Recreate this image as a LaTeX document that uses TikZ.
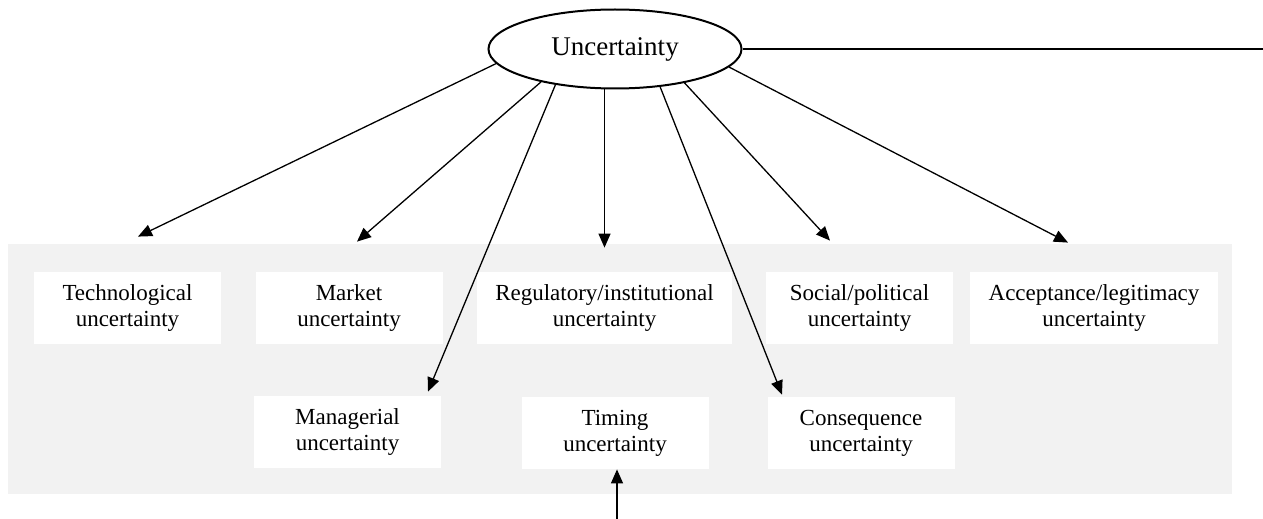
\documentclass[tikz,border=0pt]{standalone}
\usepackage{fontspec}
\setmainfont{Liberation Serif}
\usetikzlibrary{arrows.meta,shapes.geometric}
\definecolor{panelgray}{HTML}{F2F2F2}

\begin{document}
\begin{tikzpicture}[
	x=0.5pt, y=-0.5pt,
	box/.style = {
		fill=white,
		align=center,
		inner sep=0pt,
		minimum height = 36pt,
		minimum width = 93.5pt,
		font=\fontsize{11.5}{13}\selectfont,
	},
	arr/.style={-{Triangle[length=7pt,width=6pt]}, line width=0.65pt},
]
\useasboundingbox (0,0) rectangle (1263,519);

% grey panel
\fill[panelgray] (8,244) rectangle (1232,494);

% Uncertainty ellipse
\node [
	ellipse,draw,
	line width=1pt,
	inner sep=0pt,
	minimum width=126.5pt,
	minimum height=39.5pt,
	font=\fontsize{13.5}{16}\selectfont,
] (unc) at (615,49) {Uncertainty};

% first row
\node [box] (tech) at (127.5,308) {Technological\\uncertainty};
\node [box] (mkt) at (349,308) {Market\\uncertainty};
\node [box, minimum width=127.5pt] (reg) at (604.5,308) {Regulatory/institutional\\uncertainty};
\node [box] (soc) at (859.5,308) {Social/political\\uncertainty};
\node [box, minimum width=124pt] (acc) at (1094,308) {Acceptance/legitimacy\\uncertainty};

% second row
\node [box] (mgr) at (347.5,432) {Managerial\\uncertainty};
\node [box] (tim) at (615,433) {Timing\\uncertainty};
\node [box] (csq) at (861,433) {Consequence\\uncertainty};

% free ends
\coordinate (outr) at (1263,49);
\coordinate (timein) at (617,519);

% Connections from the ellipse
\draw[arr] (unc.187) -- ([shift={(10.5,-35)}]tech.north);
\draw[arr] (unc.204.7) -- ([shift={(8,-30)}]mkt.north);
\draw[arr] (unc.211.2) -- ([shift={(80.5,-4)}]mgr.north);
\draw[arr] (unc.south -| reg.north) -- ([yshift=12pt]reg.north);
\draw[arr] (unc.320.3) -- ([shift={(-79,-2)}]csq.north);
\draw[arr] (unc.334.7) -- ([shift={(-29.5,-31)}]soc.north);
\draw[arr] (unc.351.3) -- ([shift={(-26,-29)}]acc.north);
\draw[line width=0.65pt] (unc.east) -- (outr);
\draw[arr] (timein) -- (timein |- tim.south);

\end{tikzpicture}
\end{document}
